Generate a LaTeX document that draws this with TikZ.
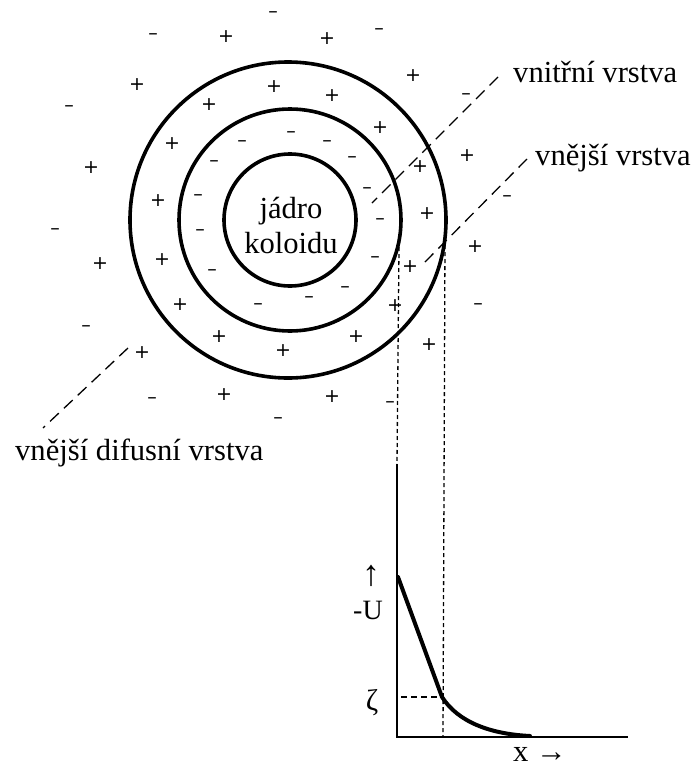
\documentclass[tikz,border=0pt]{standalone}
\usepackage{fontspec}
\setmainfont{Liberation Serif}
\newfontfamily\signfont{DejaVu Sans}
\begin{document}
\begin{tikzpicture}[x=1pt,y=-1pt,
  ring/.style={circle,draw,line width=3.6pt,inner sep=0pt},
  sgn/.style={inner sep=0pt,font=\signfont\fontsize{19}{19}\selectfont},
  lbl/.style={inner sep=0pt,font=\fontsize{30.6}{36}\selectfont},
  leader/.style={line width=1.3pt,dash pattern=on 12pt off 7pt},
  vdash/.style={line width=1.3pt,dash pattern=on 4pt off 3pt},
  axis/.style={line width=1.6pt},
  curve/.style={line width=4pt,line cap=round,line join=round}]
\useasboundingbox (0,0) rectangle (693,769);
% circles
\node[ring,minimum size=316pt] (outer) at (288,220) {};
\node[ring,minimum size=222pt] (middle) at (290,220) {};
\node[ring,minimum size=132pt] (core) at (290,220) {};
\node[lbl,anchor=base] (jadro) at (291,218) {jádro};
\node[lbl,anchor=base] (koloidu) at (291,253) {koloidu};
% minus signs
\foreach \p [count=\i] in {(273,15),(153,37),(379,32),(69,109),(466,97),(291,135),(242,144),(327,144),(214,164),(352,160),(367,191),(507,199),(198,198),(55,232),(200,233),(380,222),(375,260),(212,273),(345,290),(258,307),(309,300),(478,307),(86,329),(152,401),(390,405),(278,421)}
  \node[sgn] (m\i) at \p {–};
% plus signs
\foreach \p [count=\i] in {(226,37),(327,39),(137,85),(274,87),(332,96),(209,105),(413,76),(172,144),(380,128),(91,168),(467,156),(420,167),(158,201),(427,214),(475,247),(100,264),(162,260),(410,267),(180,305),(395,306),(219,337),(356,337),(283,351),(142,353),(429,345),(224,395),(332,397)}
  \node[sgn] (p\i) at \p {+};
% labels
\node[lbl,anchor=base west] (inner) at (513,82) {vnitřní vrstva};
\node[lbl,anchor=base west] (outerl) at (535,165) {vnější vrstva};
\node[lbl,anchor=base west] (diff) at (15,460) {vnější difusní vrstva};
% leaders
\coordinate (a1) at (498,77);
\coordinate (a2) at (372,203);
\coordinate (b1) at (527,159);
\coordinate (b2) at (422,265);
\coordinate (c1) at (128,348);
\coordinate (c2) at (43,428);
\draw[leader] (a1) -- (a2);
\draw[leader] (b1) -- (b2);
\draw[leader] (c1) -- (c2);
% graph
\coordinate (o) at (397,737);
\coordinate (ytop) at (397,464);
\coordinate (xend) at (628,737);
\coordinate (v1) at (399,247);
\coordinate (v2) at (445,238);
\coordinate (v2b) at (443,737);
\coordinate (s) at (398,577);
\coordinate (k) at (442,697);
\coordinate (e) at (530,736);
\draw[vdash] (v1) -- (ytop);
\draw[vdash] (v2) -- (v2b);
\draw[axis] (ytop) -- (o) -- (xend);
\draw[curve] (s) -- (k) .. controls (458,722) and (490,734) .. (e);
\coordinate (z0) at (401,697);
\draw[line width=1.1pt,dash pattern=on 6pt off 4pt] (z0) -- (k);
\node[lbl,font=\fontsize{36}{36}\selectfont] (up) at (371,576) {↑};
\node[lbl,font=\fontsize{28}{30}\selectfont] (U) at (368,610) {-U};
\node[lbl,font=\fontsize{30}{30}\selectfont] (zeta) at (372,703) {ζ};
\node[lbl,anchor=base west] (xl) at (513,761) {x →};
\end{tikzpicture}
\end{document}
